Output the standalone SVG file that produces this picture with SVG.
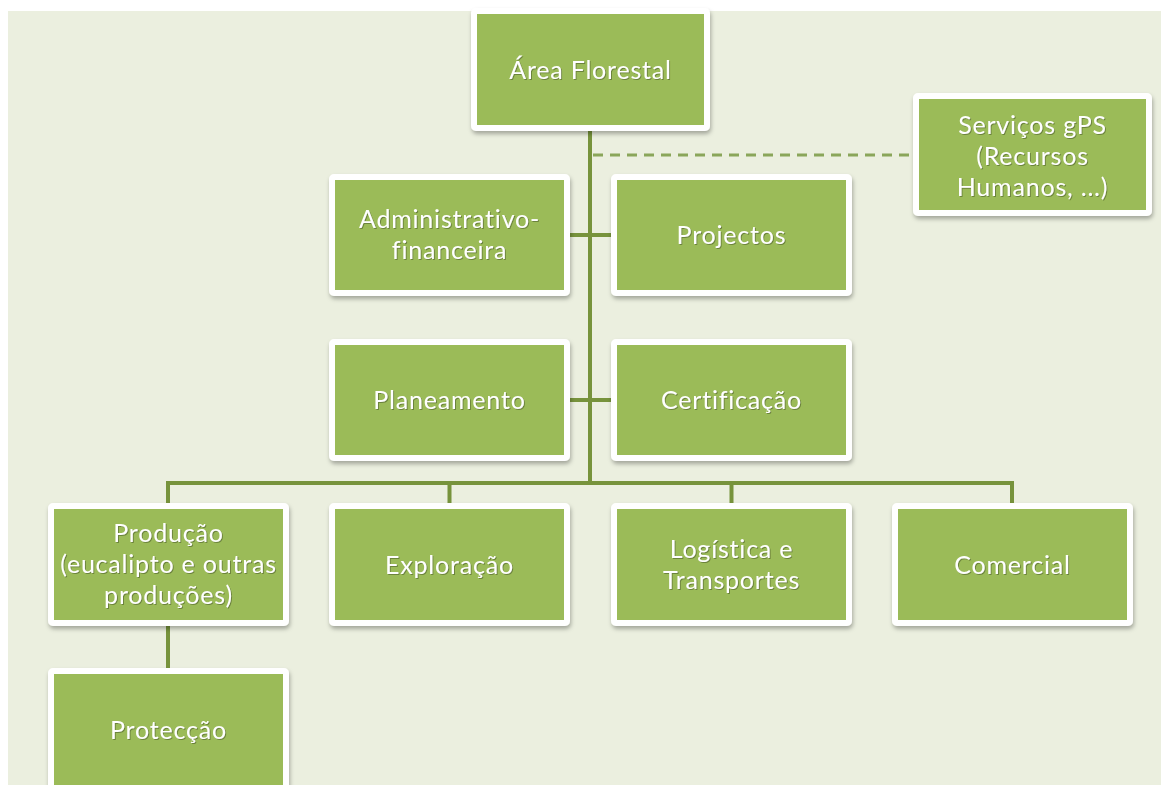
<svg xmlns="http://www.w3.org/2000/svg" width="1161" height="785" viewBox="0 0 1161 785">
<defs>
<filter id="sh" x="-10%" y="-10%" width="120%" height="125%">
<feDropShadow dx="1" dy="3" stdDeviation="2" flood-color="#000" flood-opacity="0.3"/>
</filter>
<filter id="tsh" x="-5%" y="-20%" width="110%" height="140%">
<feDropShadow dx="1" dy="1" stdDeviation="0.6" flood-color="#3a4a1a" flood-opacity="0.5"/>
</filter>
<style>
.box{fill:#9BBB59;stroke:#FFFFFF;stroke-width:6;filter:url(#sh)}
.t{font-family:Lato,"Liberation Sans",sans-serif;font-size:25px;letter-spacing:0.8px;fill:#FFFFFF;text-anchor:middle;filter:url(#tsh)}
.ln{stroke:#77933C;stroke-width:4;fill:none}
.dash{stroke:#8AA65A;stroke-width:3;fill:none;stroke-dasharray:10 7}
</style>
</defs>
<rect x="0" y="0" width="1161" height="785" fill="#FFFFFF"/>
<rect x="8" y="11" width="1153" height="774" fill="#EBEFDF"/>
<g id="connectors">
<path class="ln" d="M590,131 V483"/>
<path class="dash" d="M593,155 H913"/>
<path class="ln" d="M570,235 H611"/>
<path class="ln" d="M570,400 H611"/>
<path class="ln" d="M166,483 H1014"/>
<path class="ln" d="M168,483 V503 M449.5,483 V503 M731.5,483 V503 M1012,483 V503"/>
<path class="ln" d="M168,626 V668"/>
</g>
<g id="area">
<rect class="box" x="474" y="11" width="233" height="117" rx="2"/>
<text class="t" x="590.5" y="79">Área Florestal</text>
</g>
<g id="gps">
<rect class="box" x="916" y="96" width="233" height="117" rx="2"/>
<text class="t" x="1032.5" y="134">Serviços gPS</text>
<text class="t" x="1032.5" y="165">(Recursos</text>
<text class="t" x="1032.5" y="196">Humanos, ...)</text>
</g>
<g id="admin">
<rect class="box" x="332" y="177" width="235" height="116" rx="2"/>
<text class="t" x="449.5" y="228">Administrativo-</text>
<text class="t" x="449.5" y="259">financeira</text>
</g>
<g id="projectos">
<rect class="box" x="614" y="177" width="235" height="116" rx="2"/>
<text class="t" x="731.5" y="244">Projectos</text>
</g>
<g id="planeamento">
<rect class="box" x="332" y="342" width="235" height="116" rx="2"/>
<text class="t" x="449.5" y="409">Planeamento</text>
</g>
<g id="certificacao">
<rect class="box" x="614" y="342" width="235" height="116" rx="2"/>
<text class="t" x="731.5" y="409">Certificação</text>
</g>
<g id="producao">
<rect class="box" x="51" y="506" width="235" height="117" rx="2"/>
<text class="t" x="168.5" y="542">Produção</text>
<text class="t" x="168.5" y="573">(eucalipto e outras</text>
<text class="t" x="168.5" y="604">produções)</text>
</g>
<g id="exploracao">
<rect class="box" x="332" y="506" width="235" height="117" rx="2"/>
<text class="t" x="449.5" y="574">Exploração</text>
</g>
<g id="logistica">
<rect class="box" x="614" y="506" width="235" height="117" rx="2"/>
<text class="t" x="731.5" y="558">Logística e</text>
<text class="t" x="731.5" y="589">Transportes</text>
</g>
<g id="comercial">
<rect class="box" x="895" y="506" width="235" height="117" rx="2"/>
<text class="t" x="1012.5" y="574">Comercial</text>
</g>
<g id="proteccao">
<rect class="box" x="51" y="671" width="235" height="117" rx="2"/>
<text class="t" x="168.5" y="739">Protecção</text>
</g>
</svg>
